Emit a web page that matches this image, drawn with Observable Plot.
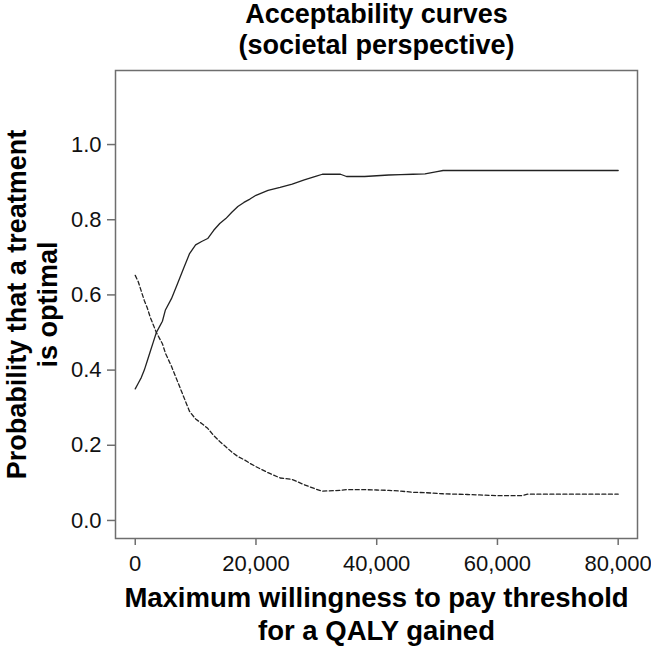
<!DOCTYPE html>
<html>
<head>
<meta charset="utf-8">
<script src="https://cdn.jsdelivr.net/npm/d3@7"></script>
<script src="https://cdn.jsdelivr.net/npm/@observablehq/plot@0.6"></script>
<style>
  html, body { margin: 0; padding: 0; background: #fff; }
  #chart { width: 651px; height: 646px; }
</style>
</head>
<body>
<div id="chart"></div>
<script>
// Willingness-to-pay thresholds (x values)
const wtp = [0, 500, 1000, 1500, 2000, 2500, 3000, 3500, 4000, 4500, 5000, 6000, 7000, 8000, 9000,
  10000, 11000, 12000, 13000, 14000, 15000, 16000, 17000, 18000, 19000, 20000, 22000, 24000, 26000,
  28000, 30000, 31000, 34000, 35000, 38000, 40000, 42000, 44000, 46000, 48000, 50000, 51000, 55000,
  57000, 60000, 64000, 65000, 70000, 75000, 80000];

// Probability optimal - solid curve
const probSolid = [0.35, 0.365, 0.38, 0.40, 0.425, 0.45, 0.475, 0.50, 0.515, 0.53, 0.56, 0.59, 0.63, 0.67, 0.71,
  0.733, 0.742, 0.75, 0.772, 0.79, 0.803, 0.82, 0.835, 0.846, 0.855, 0.865, 0.878, 0.886, 0.895,
  0.906, 0.916, 0.921, 0.921, 0.915, 0.915, 0.917, 0.919, 0.920, 0.921, 0.922, 0.928, 0.931, 0.931,
  0.931, 0.931, 0.931, 0.931, 0.931, 0.931, 0.931];

// Probability optimal - dashed curve
const probDashed = [0.652, 0.635, 0.61, 0.585, 0.565, 0.54, 0.52, 0.50, 0.485, 0.47, 0.445, 0.41, 0.37, 0.33, 0.29,
  0.27, 0.258, 0.245, 0.226, 0.21, 0.196, 0.182, 0.17, 0.162, 0.152, 0.143, 0.127, 0.113, 0.109,
  0.095, 0.083, 0.078, 0.080, 0.082, 0.082, 0.081, 0.080, 0.078, 0.075, 0.074, 0.072, 0.071, 0.069,
  0.068, 0.066, 0.066, 0.070, 0.070, 0.070, 0.070];

const xTicks = [0, 20000, 40000, 60000, 80000];
const yTicks = [0, 0.2, 0.4, 0.6, 0.8, 1.0];

const titleText = "Acceptability curves\n(societal perspective)";
const xLabel = "Maximum willingness to pay threshold\nfor a QALY gained";
const yLabel = "Probability that a treatment\nis optimal";

const rows = wtp.map((w, i) => ({wtp: w, solid: probSolid[i], dashed: probDashed[i]}));

const font = "'Liberation Sans', Arial, Helvetica, sans-serif";

const chart = Plot.plot({
  width: 651,
  height: 646,
  marginLeft: 115,
  marginRight: 14,
  marginTop: 70,
  marginBottom: 108,
  style: {fontFamily: font, background: "#fff", color: "#111", overflow: "visible"},
  x: {domain: [-3270, 83200], axis: null},
  y: {domain: [-0.048, 1.197], axis: null},
  marks: [
    Plot.frame({stroke: "#6e6e6e", strokeWidth: 1.5}),
    Plot.axisX({ticks: xTicks, tickFormat: d3.format(","), tickSize: 7, tickPadding: 10,
      fontSize: 22, stroke: "#6e6e6e", strokeWidth: 1.5, fill: "#111", label: null}),
    Plot.axisY({ticks: yTicks, tickFormat: d3.format(".1f"), tickSize: 8, tickPadding: 6,
      fontSize: 22, stroke: "#6e6e6e", strokeWidth: 1.5, fill: "#111", label: null}),
    Plot.line(rows, {x: "wtp", y: "solid", stroke: "#222", strokeWidth: 1.3}),
    Plot.line(rows, {x: "wtp", y: "dashed", stroke: "#222", strokeWidth: 1.3, strokeDasharray: "4,2.5"}),
    Plot.text([titleText], {frameAnchor: "top", text: d => d, lineAnchor: "bottom", dy: -17,
      fontSize: 27, fontWeight: "bold", lineHeight: 1.13, fill: "#000"}),
    Plot.text([xLabel], {frameAnchor: "bottom", text: d => d, lineAnchor: "bottom", dy: 101,
      fontSize: 27.5, fontWeight: "bold", lineHeight: 1.17, fill: "#000"}),
    Plot.text([yLabel], {frameAnchor: "left", text: d => d, textAnchor: "middle", lineAnchor: "bottom",
      rotate: -90, dx: -59, fontSize: 27, fontWeight: "bold", lineHeight: 1.12, fill: "#000"})
  ]
});

document.getElementById("chart").appendChild(chart);
</script>
</body>
</html>
